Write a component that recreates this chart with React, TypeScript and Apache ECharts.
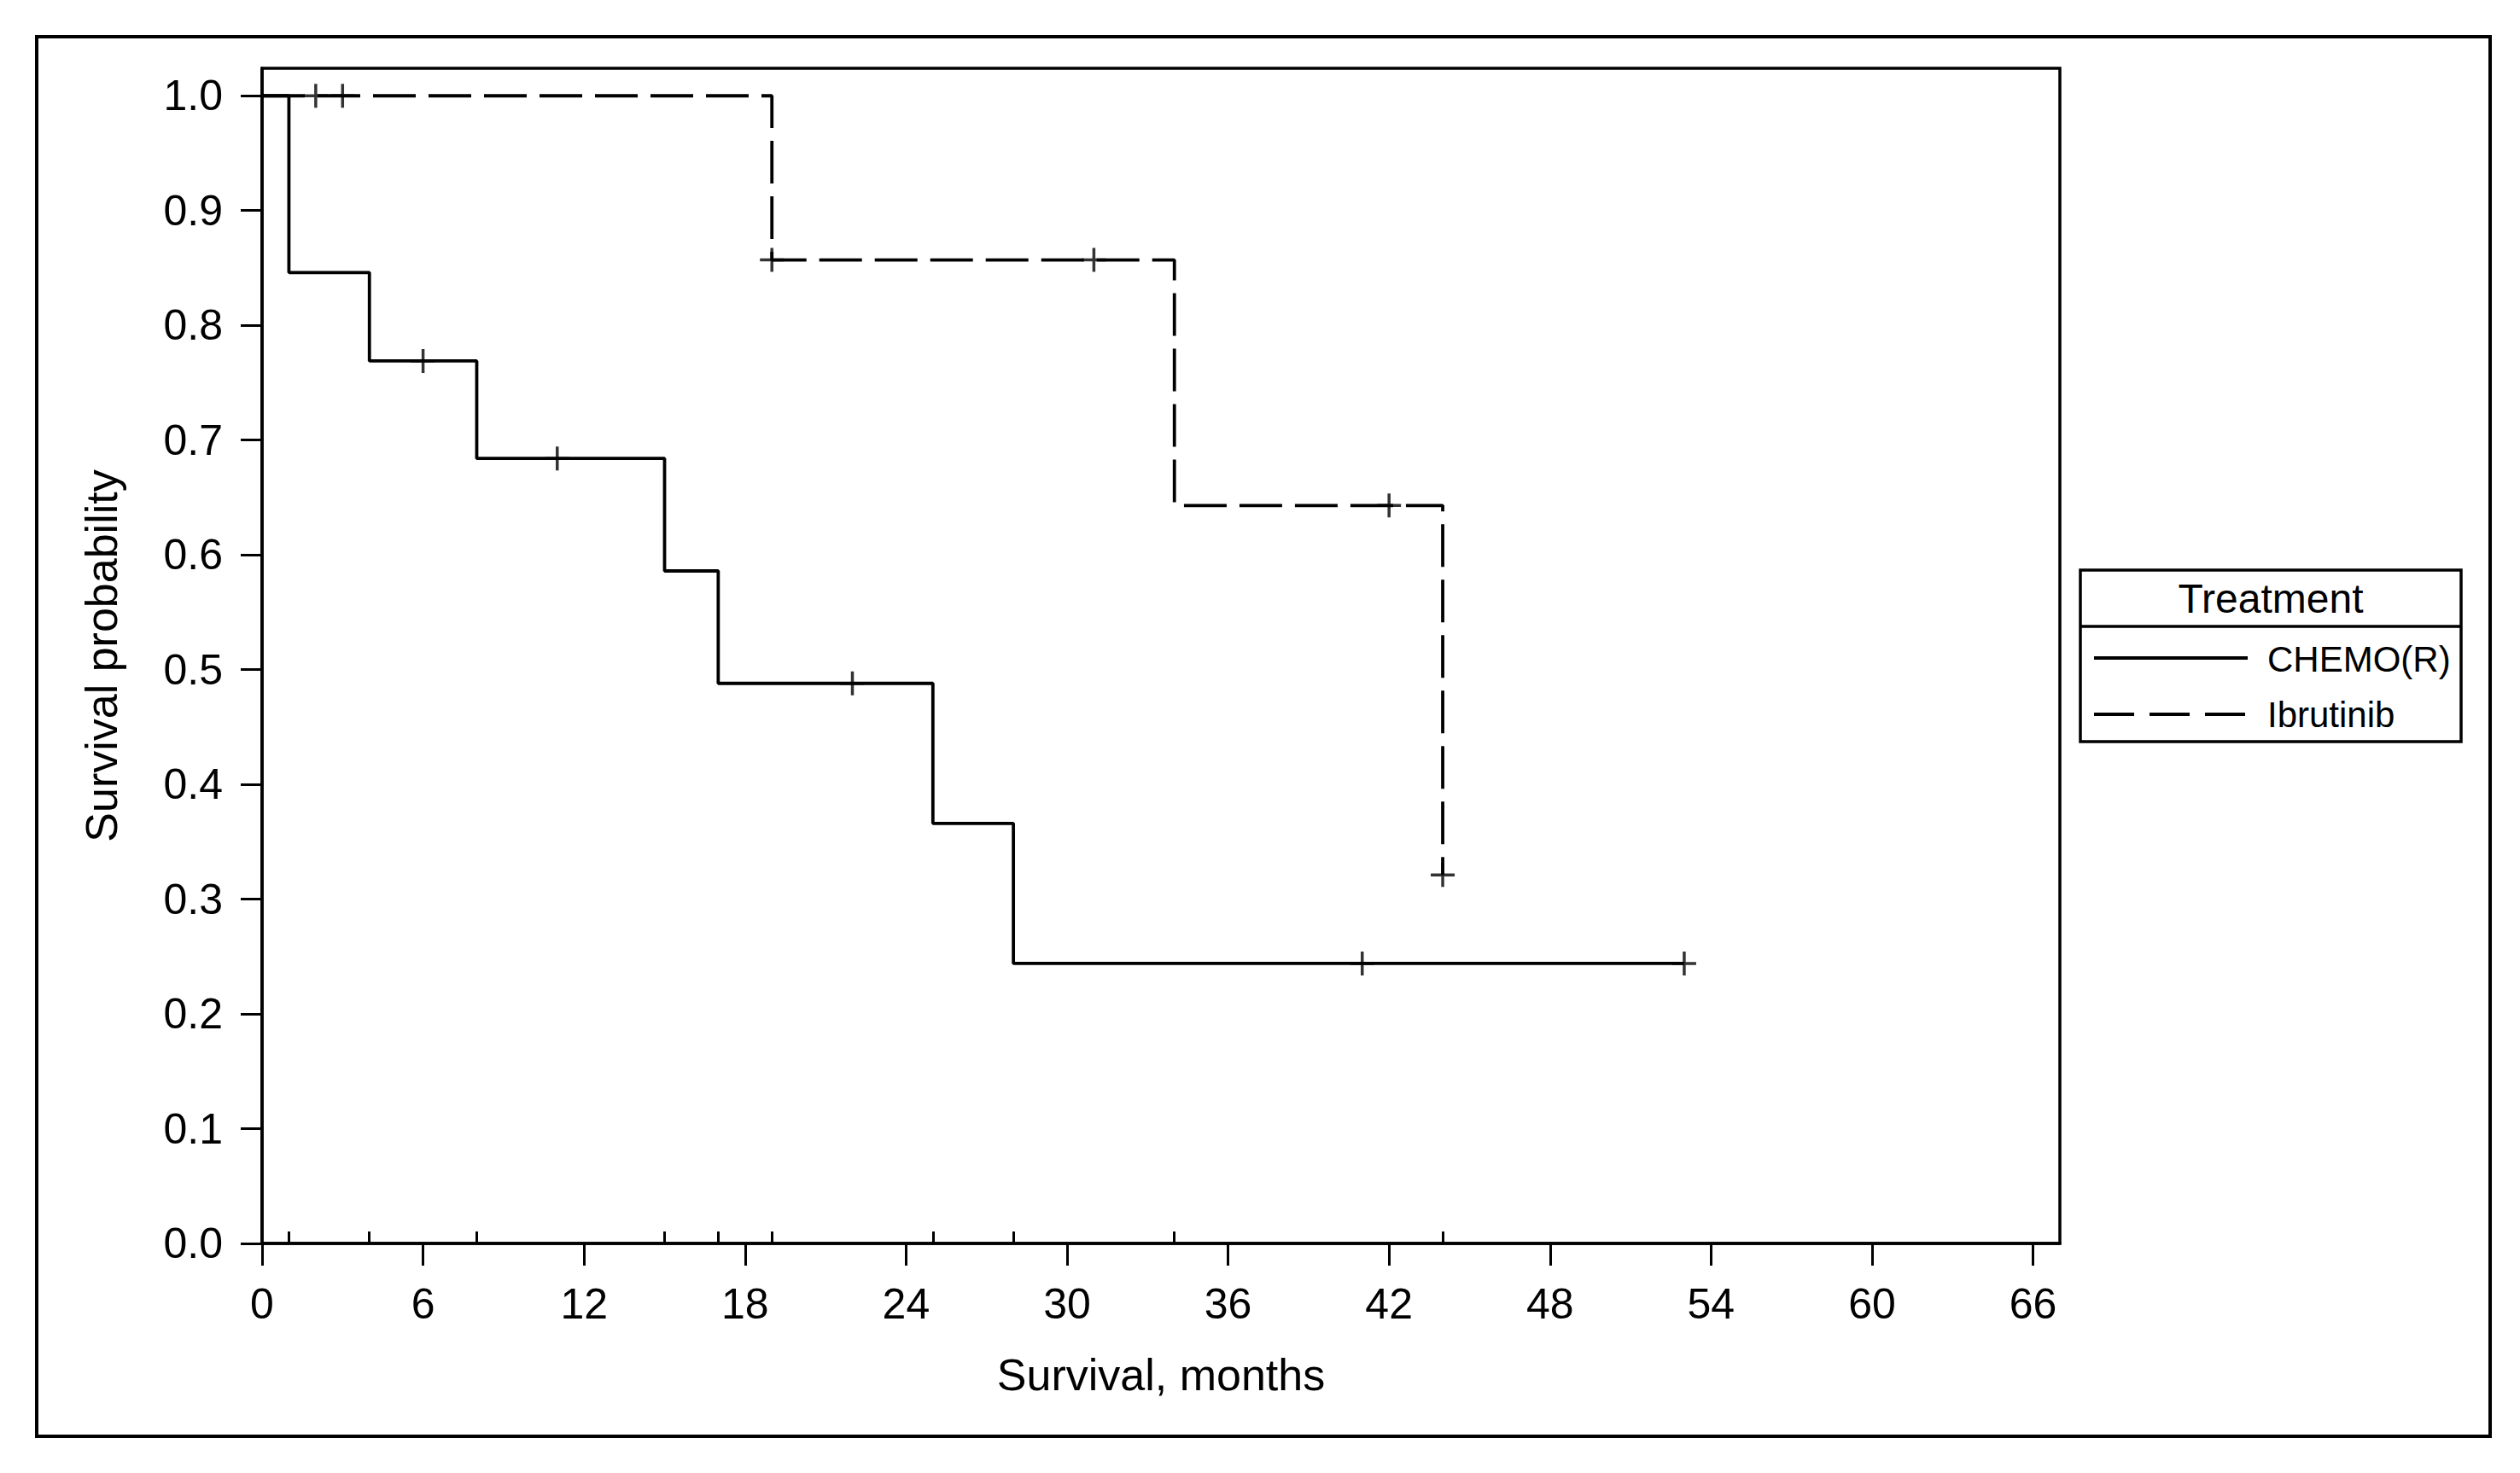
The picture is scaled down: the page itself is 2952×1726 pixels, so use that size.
import React, { useEffect, useRef } from "react";
import * as echarts from "echarts";

// ---- Data ----
const chemoTimes = [0, 1, 4, 8, 15, 17, 25, 28, 53];
const chemoSurv = [1.0, 0.846, 0.769, 0.684, 0.586, 0.488, 0.366, 0.244, 0.244];
const chemoCensorTimes = [6, 11, 22, 41, 53];
const chemoCensorSurv = [0.769, 0.684, 0.488, 0.244, 0.244];

const ibruTimes = [0, 19, 34, 44];
const ibruSurv = [1.0, 0.857, 0.643, 0.321];
const ibruCensorTimes = [2, 3, 19, 31, 42, 44];
const ibruCensorSurv = [1.0, 1.0, 0.857, 0.857, 0.643, 0.321];

const xTicks = [0, 6, 12, 18, 24, 30, 36, 42, 48, 54, 60, 66];
const yTicks = [0, 0.1, 0.2, 0.3, 0.4, 0.5, 0.6, 0.7, 0.8, 0.9, 1.0];
const eventTicks = [1, 4, 8, 15, 17, 19, 25, 28, 34, 44];

const seriesNames = ["CHEMO(R)", "Ibrutinib"];
const legendTitle = "Treatment";
const xTitle = "Survival, months";
const yTitle = "Survival probability";

const FONT = "'Liberation Sans', Arial, Helvetica, sans-serif";
const PLUS = "path://M0,14L28,14M14,0L14,28";
const DASH = [50, 15];
const LW = 3.8;

export default function App() {
  const ref = useRef<HTMLDivElement>(null);

  useEffect(() => {
    if (!ref.current) return;
    const chart = echarts.init(ref.current, undefined, { renderer: "svg" });

    const chemoData = chemoTimes.map((t, i) => [t, chemoSurv[i]]);
    const ibruData = ibruTimes.map((t, i) => [t, ibruSurv[i]]);
    const chemoCensor = chemoCensorTimes.map((t, i) => [t, chemoCensorSurv[i]]);
    const ibruCensor = ibruCensorTimes.map((t, i) => [t, ibruCensorSurv[i]]);

    chart.setOption({
      animation: false,
      backgroundColor: "#fff",
      textStyle: { fontFamily: FONT, color: "#000" },
      grid: {
        left: 307,
        top: 80,
        right: 2952 - 2413,
        bottom: 1726 - 1457,
        show: true,
        borderColor: "#000",
        borderWidth: 3.5,
        containLabel: false,
      },
      xAxis: [
        {
          type: "value",
          min: 0,
          max: 67,
          interval: 6,
          name: xTitle,
          nameLocation: "middle",
          nameGap: 128,
          nameTextStyle: { fontSize: 52, color: "#000", fontFamily: FONT },
          axisLine: { show: true, onZero: false, lineStyle: { color: "#000", width: 3.5 } },
          axisTick: {
            show: true,
            inside: false,
            length: 26,
            lineStyle: { color: "#000", width: 3 },
            customValues: xTicks,
          },
          axisLabel: {
            show: true,
            margin: 46,
            fontSize: 50,
            color: "#000",
            fontFamily: FONT,
            customValues: xTicks,
          },
          splitLine: { show: false },
        },
        {
          type: "value",
          min: 0,
          max: 67,
          position: "bottom",
          axisLine: { show: false },
          axisTick: {
            show: true,
            inside: true,
            length: 14,
            lineStyle: { color: "#000", width: 3 },
            customValues: eventTicks,
          },
          axisLabel: { show: false },
          splitLine: { show: false },
        },
      ],
      yAxis: {
        type: "value",
        min: 0,
        max: 1.024,
        interval: 0.1,
        name: yTitle,
        nameLocation: "middle",
        nameGap: 162,
        nameTextStyle: { fontSize: 52, color: "#000", fontFamily: FONT },
        axisLine: { show: true, onZero: false, lineStyle: { color: "#000", width: 3.5 } },
        axisTick: {
          show: true,
          inside: false,
          length: 25,
          lineStyle: { color: "#000", width: 3 },
          customValues: yTicks,
        },
        axisLabel: {
          show: true,
          margin: 46,
          fontSize: 50,
          color: "#000",
          fontFamily: FONT,
          customValues: yTicks,
          formatter: (v: number) => v.toFixed(1),
        },
        splitLine: { show: false },
      },
      series: [
        {
          name: seriesNames[1],
          type: "line",
          step: "end",
          data: ibruData,
          symbol: "none",
          silent: true,
          lineStyle: { color: "#000", width: LW, type: DASH },
          itemStyle: { color: "#000" },
          z: 2,
        },
        {
          name: seriesNames[0],
          type: "line",
          step: "end",
          data: chemoData,
          symbol: "none",
          silent: true,
          lineStyle: { color: "#000", width: LW, type: "solid" },
          itemStyle: { color: "#000" },
          z: 3,
        },
        {
          name: "chemoCensor",
          type: "scatter",
          data: chemoCensor,
          symbol: PLUS,
          symbolSize: 28,
          silent: true,
          itemStyle: { color: "transparent", borderColor: "#000", borderWidth: 3.5 },
          z: 4,
        },
        {
          name: "ibruCensor",
          type: "scatter",
          data: ibruCensor,
          symbol: PLUS,
          symbolSize: 28,
          silent: true,
          itemStyle: { color: "transparent", borderColor: "#000", borderWidth: 3.5 },
          z: 4,
        },
      ],
      graphic: [
        {
          type: "rect",
          shape: { x: 43, y: 43, width: 2874, height: 1640 },
          style: { fill: "none", stroke: "#000", lineWidth: 4 },
          silent: true,
        },
        {
          type: "rect",
          shape: { x: 2437, y: 668, width: 446, height: 201 },
          style: { fill: "none", stroke: "#000", lineWidth: 3.5 },
          silent: true,
        },
        {
          type: "line",
          shape: { x1: 2437, y1: 734, x2: 2883, y2: 734 },
          style: { stroke: "#000", lineWidth: 3.5 },
          silent: true,
        },
        {
          type: "text",
          x: 2660,
          y: 701,
          style: {
            text: legendTitle,
            fontSize: 48,
            fontFamily: FONT,
            fill: "#000",
            align: "center",
            verticalAlign: "middle",
          },
          silent: true,
        },
        {
          type: "line",
          shape: { x1: 2453, y1: 771, x2: 2633, y2: 771 },
          style: { stroke: "#000", lineWidth: LW },
          silent: true,
        },
        {
          type: "text",
          x: 2656,
          y: 772,
          style: {
            text: seriesNames[0],
            fontSize: 42,
            fontFamily: FONT,
            fill: "#000",
            align: "left",
            verticalAlign: "middle",
          },
          silent: true,
        },
        {
          type: "line",
          shape: { x1: 2453, y1: 837, x2: 2633, y2: 837 },
          style: { stroke: "#000", lineWidth: LW, lineDash: [47, 18] },
          silent: true,
        },
        {
          type: "text",
          x: 2656,
          y: 837,
          style: {
            text: seriesNames[1],
            fontSize: 42,
            fontFamily: FONT,
            fill: "#000",
            align: "left",
            verticalAlign: "middle",
          },
          silent: true,
        },
      ],
    });

    return () => chart.dispose();
  }, []);

  return (
    <div
      ref={ref}
      style={{ position: "absolute", left: 0, top: 0, width: 2952, height: 1726, background: "#fff" }}
    />
  );
}
